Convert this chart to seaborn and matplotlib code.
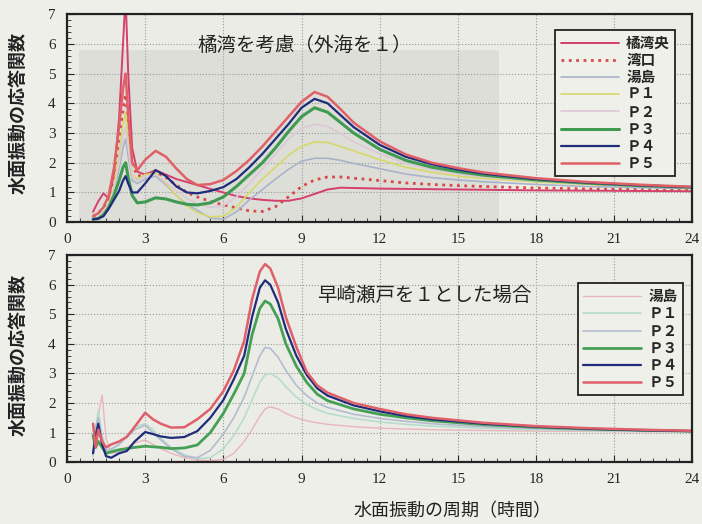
import numpy as np
import pandas as pd
import seaborn as sns
import matplotlib
matplotlib.use("Agg")
from matplotlib import pyplot as plt
from matplotlib.patches import Rectangle
from matplotlib.ticker import MultipleLocator

# 上段：橘湾を考慮（外海を１）
period_top = [1.0, 1.2, 1.4, 1.6, 1.8, 2.0, 2.15, 2.25, 2.35, 2.5, 2.7, 3.0, 3.4, 3.8, 4.2, 4.6,
              5.0, 5.5, 6.0, 6.5, 7.0, 7.5, 8.0, 8.5, 9.0, 9.5, 10.0, 10.5, 11.0, 12.0, 13.0,
              14.0, 15.0, 16.0, 18.0, 20.0, 22.0, 24.0]
tachibana_c = [0.35, 0.7, 0.97, 0.8, 1.6, 3.5, 6.0, 7.6, 5.0, 2.5, 1.7, 1.6, 1.75, 1.6, 1.45, 1.35,
               1.25, 1.12, 1.0, 0.88, 0.8, 0.75, 0.72, 0.72, 0.8, 0.95, 1.1, 1.16, 1.15, 1.13, 1.12,
               1.11, 1.1, 1.09, 1.07, 1.06, 1.05, 1.04]
wanko = [0.2, 0.3, 0.5, 0.8, 1.5, 2.8, 3.8, 4.3, 3.3, 2.0, 1.55, 1.6, 1.7, 1.5, 1.25, 1.0,
         0.85, 0.7, 0.58, 0.48, 0.38, 0.36, 0.52, 0.85, 1.2, 1.42, 1.52, 1.52, 1.48, 1.4, 1.32,
         1.27, 1.23, 1.2, 1.15, 1.12, 1.1, 1.08]
yushima_t = [0.1, 0.15, 0.3, 0.5, 1.0, 1.8, 2.5, 2.8, 2.2, 1.4, 1.3, 1.45, 1.55, 1.25, 0.9, 0.6,
             0.4, 0.14, 0.1, 0.35, 0.75, 1.1, 1.45, 1.78, 2.05, 2.15, 2.15, 2.08, 1.98, 1.8, 1.62,
             1.5, 1.42, 1.36, 1.27, 1.2, 1.16, 1.13]
p1_t = [0.1, 0.15, 0.3, 0.6, 1.2, 2.3, 3.3, 3.7, 2.8, 1.6, 1.45, 1.6, 1.65, 1.3, 0.9, 0.55,
        0.32, 0.18, 0.2, 0.5, 1.0, 1.45, 1.85, 2.25, 2.55, 2.7, 2.68, 2.55, 2.4, 2.1, 1.85,
        1.68, 1.55, 1.47, 1.35, 1.27, 1.21, 1.17]
p2_t = [0.1, 0.15, 0.3, 0.55, 1.1, 2.0, 2.9, 3.2, 2.5, 1.5, 1.4, 1.55, 1.6, 1.35, 1.05, 0.8,
        0.62, 0.5, 0.55, 0.85, 1.3, 1.8, 2.3, 2.8, 3.15, 3.3, 3.22, 2.98, 2.7, 2.3, 1.98,
        1.77, 1.62, 1.52, 1.38, 1.29, 1.22, 1.17]
p3_t = [0.1, 0.12, 0.25, 0.5, 0.9, 1.4, 1.85, 2.0, 1.5, 0.9, 0.65, 0.68, 0.82, 0.78, 0.68, 0.6,
        0.58, 0.65, 0.85, 1.2, 1.6, 2.0, 2.5, 3.05, 3.55, 3.85, 3.7, 3.35, 3.0, 2.45, 2.08,
        1.85, 1.7, 1.58, 1.42, 1.31, 1.23, 1.17]
p4_t = [0.1, 0.12, 0.2, 0.45, 0.75, 1.05, 1.4, 1.55, 1.3, 1.0, 1.0, 1.3, 1.75, 1.55, 1.2, 1.0,
        0.97, 1.05, 1.18, 1.45, 1.85, 2.3, 2.8, 3.3, 3.85, 4.15, 4.0, 3.6, 3.2, 2.6, 2.2,
        1.95, 1.77, 1.63, 1.45, 1.33, 1.24, 1.18]
p5_t = [0.2, 0.3, 0.5, 0.9, 1.8, 3.2, 4.5, 5.0, 3.6, 2.0, 1.75, 2.1, 2.4, 2.2, 1.8, 1.45,
        1.25, 1.28, 1.42, 1.72, 2.1, 2.55, 3.05, 3.55, 4.05, 4.38, 4.22, 3.8, 3.35, 2.72, 2.28,
        2.0, 1.82, 1.67, 1.48, 1.35, 1.26, 1.19]

# 下段：早崎瀬戸を１とした場合
period_bot = [1.0, 1.1, 1.2, 1.35, 1.5, 1.7, 2.0, 2.3, 2.6, 3.0, 3.3, 3.6, 4.0, 4.5, 5.0, 5.5,
              6.0, 6.4, 6.8, 7.1, 7.4, 7.6, 7.8, 8.1, 8.4, 8.8, 9.2, 9.6, 10.0, 11.0, 12.0,
              13.0, 14.0, 16.0, 18.0, 20.0, 22.0, 24.0]
yushima_b = [0.2, 0.8, 1.6, 2.27, 0.8, 0.3, 0.35, 0.5, 0.65, 0.75, 0.6, 0.45, 0.3, 0.15, 0.08, 0.05,
             0.1, 0.3, 0.7, 1.1, 1.55, 1.8, 1.87, 1.8, 1.65, 1.5, 1.4, 1.33, 1.28, 1.2, 1.15,
             1.12, 1.1, 1.07, 1.05, 1.04, 1.03, 1.02]
p1_b = [0.2, 1.0, 1.75, 0.9, 0.35, 0.4, 0.6, 0.9, 1.2, 1.3, 1.1, 0.8, 0.5, 0.25, 0.12, 0.15,
        0.45, 0.9, 1.5, 2.1, 2.7, 2.95, 3.0, 2.85, 2.55, 2.2, 1.95, 1.78, 1.65, 1.48, 1.36,
        1.28, 1.22, 1.15, 1.1, 1.07, 1.05, 1.03]
p2_b = [0.3, 1.2, 1.5, 0.8, 0.4, 0.45, 0.6, 0.85, 1.1, 1.25, 1.0, 0.75, 0.45, 0.2, 0.15, 0.4,
        0.95, 1.5, 2.2, 2.9, 3.6, 3.88, 3.85, 3.55, 3.1, 2.6, 2.25, 2.0, 1.85, 1.62, 1.48,
        1.38, 1.3, 1.2, 1.13, 1.09, 1.06, 1.04]
p3_b = [0.9, 0.5, 0.7, 0.5, 0.3, 0.35, 0.42, 0.46, 0.5, 0.54, 0.52, 0.5, 0.46, 0.48, 0.58, 1.0,
        1.65, 2.3, 3.0, 4.3, 5.2, 5.45, 5.35, 4.85, 4.0, 3.25, 2.7, 2.3, 2.08, 1.8, 1.62,
        1.5, 1.4, 1.27, 1.18, 1.12, 1.08, 1.05]
p4_b = [0.3, 0.9, 1.3, 0.6, 0.2, 0.15, 0.3, 0.38, 0.7, 1.02, 0.95, 0.87, 0.82, 0.85, 1.05, 1.5,
        2.1, 2.8, 3.6, 4.9, 5.9, 6.15, 6.0, 5.4, 4.5, 3.6, 2.95, 2.5, 2.25, 1.92, 1.72,
        1.56, 1.45, 1.3, 1.2, 1.13, 1.08, 1.05]
p5_b = [1.3, 0.5, 1.1, 0.7, 0.5, 0.6, 0.7, 0.86, 1.2, 1.67, 1.45, 1.3, 1.17, 1.18, 1.45, 1.8,
        2.4, 3.1, 4.1, 5.5, 6.45, 6.7, 6.55, 5.9, 4.9, 3.9, 3.05, 2.6, 2.35, 2.0, 1.8,
        1.62, 1.5, 1.33, 1.22, 1.15, 1.1, 1.06]

# 凡例・線のスタイル (ラベル, 値, 色, 線幅, 線種)
series_top = [
    ("橘湾央", tachibana_c, "#d4406e", 1.4, "-"),
    ("湾口", wanko, "#d84848", 2.0, ":"),
    ("湯島", yushima_t, "#a9b3c9", 1.2, "-"),
    ("Ｐ１", p1_t, "#d6d96a", 1.2, "-"),
    ("Ｐ２", p2_t, "#dcc8d6", 1.2, "-"),
    ("Ｐ３", p3_t, "#3f9a52", 2.2, "-"),
    ("Ｐ４", p4_t, "#1f2c7c", 1.6, "-"),
    ("Ｐ５", p5_t, "#e06068", 1.8, "-"),
]
series_bot = [
    ("湯島", yushima_b, "#e8b6bc", 1.0, "-"),
    ("Ｐ１", p1_b, "#b6dccd", 1.2, "-"),
    ("Ｐ２", p2_b, "#b3bccf", 1.2, "-"),
    ("Ｐ３", p3_b, "#45a055", 2.0, "-"),
    ("Ｐ４", p4_b, "#1f2c7c", 1.6, "-"),
    ("Ｐ５", p5_b, "#e0606a", 1.8, "-"),
]

sns.set_style("white")
plt.rcParams['font.family'] = ['Liberation Serif', 'Noto Sans CJK JP']
jp = ['Noto Sans CJK JP', 'DejaVu Sans']

fig = plt.figure(figsize=(7.02, 5.24), dpi=100, facecolor="#efefea")
ax1 = fig.add_axes([0.0954, 0.576, 0.891, 0.397])
ax2 = fig.add_axes([0.0954, 0.118, 0.891, 0.395])


def draw_panel(ax, period, series):
    ax.set_facecolor("#ecece6")
    for name, vals, col, lw, ls in series:
        sns.lineplot(x=period, y=vals, ax=ax, color=col, lw=lw, ls=ls, label=name)
    ax.set_xlim(0, 24)
    ax.set_ylim(0, 7)
    ax.xaxis.set_major_locator(MultipleLocator(3))
    ax.xaxis.set_minor_locator(MultipleLocator(0.5))
    ax.yaxis.set_major_locator(MultipleLocator(1))
    ax.yaxis.set_minor_locator(MultipleLocator(0.2))
    ax.grid(True, which="major", color="#9a9a9a", ls=":", lw=0.8)
    ax.tick_params(which="both", direction="in", left=True, bottom=True, labelsize=11)
    ax.tick_params(which="major", length=5)
    ax.tick_params(which="minor", length=3)
    ax.tick_params(axis="y", pad=8)
    ax.tick_params(axis="x", pad=8)
    for sp in ax.spines.values():
        sp.set_color("#222222")
        sp.set_linewidth(1.6)
    ax.set_xlabel("")
    ax.set_ylabel("")


draw_panel(ax1, period_top, series_top)
draw_panel(ax2, period_bot, series_bot)

# 印刷の灰色部分
ax1.add_patch(Rectangle((0.02, 0.0), 0.67, 0.83, transform=ax1.transAxes,
                        color="#deded8", zorder=0, lw=0))

leg1 = ax1.legend(loc="upper right", bbox_to_anchor=(0.984, 0.96), prop={'family': jp, 'size': 10.5, 'weight': 'bold'},
                  handlelength=4.0, labelspacing=0.08, borderpad=0.35, handletextpad=0.5,
                  fancybox=False, framealpha=1, facecolor="#f0f0eb", edgecolor="#222222")
leg1.get_frame().set_linewidth(1.3)
leg2 = ax2.legend(loc="upper right", bbox_to_anchor=(0.996, 0.9), prop={'family': jp, 'size': 10.5, 'weight': 'bold'},
                  handlelength=4.0, labelspacing=0.08, borderpad=0.35, handletextpad=0.5,
                  fancybox=False, framealpha=1, facecolor="#f0f0eb", edgecolor="#222222")
leg2.get_frame().set_linewidth(1.3)

ax1.text(5.0, 5.95, "橘湾を考慮（外海を１）", family=jp, fontsize=14, va="center", ha="left", color="#222222")
ax2.text(9.6, 5.65, "早崎瀬戸を１とした場合", family=jp, fontsize=14, va="center", ha="left", color="#222222")

fig.text(0.026, 0.785, "水面振動の応答関数", rotation=90, family=jp, fontsize=13,
         fontweight="bold", ha="center", va="center", color="#222222")
fig.text(0.026, 0.322, "水面振動の応答関数", rotation=90, family=jp, fontsize=13,
         fontweight="bold", ha="center", va="center", color="#222222")
fig.text(0.645, 0.025, "水面振動の周期（時間）", family=jp, fontsize=13,
         ha="center", va="center", color="#222222")

fig.savefig("out.png", dpi=100, facecolor=fig.get_facecolor())
